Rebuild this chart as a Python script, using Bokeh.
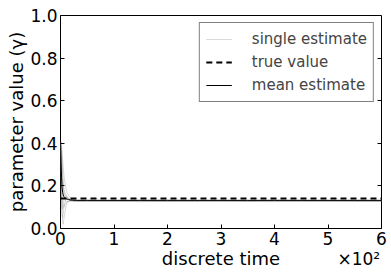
from bokeh.plotting import figure
from bokeh.models import (LinearAxis, FixedTicker, Range1d, Legend, LegendItem,
                          CustomLabelingPolicy)
from bokeh.embed import file_html
from bokeh.resources import INLINE

# ---- data ----
t = [0, 1, 2, 3, 4, 5, 6, 8, 10, 12, 15, 18, 22, 30, 50, 100, 150, 200, 250,
     300, 350, 400, 450, 500, 550, 600]

single_1 = [0.40, 0.40, 0.38, 0.35, 0.32, 0.29, 0.26, 0.22, 0.19, 0.17, 0.155, 0.145, 0.138,
            0.133, 0.131, 0.130, 0.132, 0.130, 0.131, 0.130, 0.129, 0.131, 0.130, 0.132, 0.130, 0.131]
single_2 = [0.40, 0.30, 0.18, 0.08, 0.03, 0.02, 0.04, 0.07, 0.10, 0.12, 0.130, 0.132, 0.131,
            0.130, 0.131, 0.130, 0.129, 0.130, 0.131, 0.132, 0.130, 0.129, 0.130, 0.131, 0.130, 0.130]
single_3 = [0.40, 0.36, 0.30, 0.25, 0.21, 0.18, 0.16, 0.14, 0.13, 0.125, 0.128, 0.130, 0.131,
            0.129, 0.130, 0.131, 0.130, 0.128, 0.130, 0.131, 0.130, 0.132, 0.130, 0.129, 0.130, 0.131]
single_4 = [0.40, 0.22, 0.10, 0.06, 0.05, 0.07, 0.09, 0.12, 0.14, 0.145, 0.140, 0.136, 0.133,
            0.132, 0.130, 0.131, 0.130, 0.130, 0.129, 0.130, 0.131, 0.130, 0.130, 0.131, 0.130, 0.129]
single_5 = [0.40, 0.38, 0.34, 0.28, 0.24, 0.20, 0.18, 0.16, 0.15, 0.14, 0.137, 0.134, 0.132,
            0.130, 0.130, 0.130, 0.131, 0.130, 0.130, 0.129, 0.130, 0.131, 0.130, 0.130, 0.131, 0.130]
single_6 = [0.40, 0.26, 0.14, 0.10, 0.09, 0.11, 0.13, 0.15, 0.155, 0.148, 0.140, 0.135, 0.131,
            0.130, 0.129, 0.130, 0.130, 0.131, 0.130, 0.130, 0.130, 0.130, 0.131, 0.130, 0.129, 0.130]
single_7 = [0.40, 0.33, 0.24, 0.17, 0.12, 0.10, 0.10, 0.11, 0.12, 0.125, 0.127, 0.128, 0.128,
            0.127, 0.128, 0.127, 0.126, 0.128, 0.127, 0.128, 0.127, 0.126, 0.128, 0.127, 0.128, 0.127]
single_8 = [0.40, 0.41, 0.39, 0.33, 0.27, 0.22, 0.19, 0.17, 0.16, 0.15, 0.142, 0.136, 0.133,
            0.132, 0.133, 0.132, 0.133, 0.134, 0.132, 0.133, 0.132, 0.134, 0.133, 0.132, 0.133, 0.132]
singles = [single_1, single_2, single_3, single_4, single_5, single_6, single_7, single_8]

mean_est = [0.40, 0.31, 0.24, 0.19, 0.17, 0.158, 0.15, 0.145, 0.141, 0.138, 0.136, 0.134, 0.133,
            0.132, 0.132, 0.132, 0.132, 0.132, 0.132, 0.132, 0.132, 0.132, 0.132, 0.132, 0.132, 0.132]

true_t = [0, 600]
true_val = [0.141, 0.141]

x_ticks = [0, 100, 200, 300, 400, 500, 600]
x_tick_labels = ["0", "1", "2", "3", "4", "5", "6"]
y_ticks = [0.0, 0.2, 0.4, 0.6, 0.8, 1.0]
y_tick_labels = ["0.0", "0.2", "0.4", "0.6", "0.8", "1.0"]
x_scale_text = "\u00d710\u00b2"

FONT = "DejaVu Sans"

p = figure(width=391, height=277, output_backend="svg", toolbar_location=None,
           x_range=Range1d(0, 600), y_range=Range1d(0, 1),
           min_border_left=60, min_border_right=10, min_border_top=15, min_border_bottom=49)
p.grid.visible = False
p.outline_line_color = "black"
p.outline_line_width = 1
p.background_fill_color = "white"
p.border_fill_color = "white"

single_renderers = []
for s in singles:
    r = p.line(t, s, line_color="gray", line_alpha=0.3, line_width=1)
    single_renderers.append(r)
r_true = p.line(true_t, true_val, line_color="black", line_width=2, line_dash="6 4")
r_mean = p.line(t, mean_est, line_color="black", line_width=1)

for ax, ticks, labels in ((p.xaxis[0], x_ticks, x_tick_labels), (p.yaxis[0], y_ticks, y_tick_labels)):
    ax.ticker = FixedTicker(ticks=ticks)
    ax.major_label_overrides = {tk: lb for tk, lb in zip(ticks, labels)}
    ax.major_tick_in = 4
    ax.major_tick_out = 0
    ax.minor_tick_line_color = None
    ax.major_label_text_font = FONT
    ax.major_label_text_font_size = "17px"
    ax.major_label_text_color = "black"
    ax.axis_label_text_font = FONT
    ax.axis_label_text_font_size = "18px"
    ax.axis_label_text_font_style = "normal"
    ax.axis_label_text_color = "black"
    ax.axis_line_color = None
    ax.major_label_standoff = 3
    ax.axis_label_standoff = 0

p.xaxis[0].axis_label = "discrete time"
p.yaxis[0].axis_label = "parameter value (\u03b3)"

no_labels = CustomLabelingPolicy(code="return new indices.constructor(indices.size);")

# inward ticks on the right edge
right_ax = LinearAxis(ticker=FixedTicker(ticks=y_ticks), fixed_location=600,
                      major_label_policy=no_labels, major_label_text_font_size="1px",
                      major_label_standoff=0, major_tick_in=4, major_tick_out=0,
                      minor_tick_line_color=None, axis_line_color=None)
p.add_layout(right_ax, "right")

# "x10^2" multiplier: label of a second, tick-less bottom axis, pulled up to the label row;
# leading no-break spaces push the visible text to the right end while the box stays inside
scale_ax = LinearAxis(ticker=FixedTicker(ticks=[]),
                      major_label_policy=no_labels, major_label_text_font_size="1px",
                      major_label_standoff=0, major_tick_in=0, major_tick_out=0,
                      minor_tick_line_color=None, axis_line_color=None,
                      axis_label="\u00a0" * 51 + x_scale_text, axis_label_align="center",
                      axis_label_standoff=-23,
                      axis_label_text_font=FONT, axis_label_text_font_size="17px",
                      axis_label_text_font_style="normal", axis_label_text_color="black")
p.add_layout(scale_ax, "below")

legend = Legend(items=[
    LegendItem(label="single estimate", renderers=[single_renderers[0]]),
    LegendItem(label="true value", renderers=[r_true]),
    LegendItem(label="mean estimate", renderers=[r_mean]),
], location="top_right")
legend.margin = 7
legend.padding = 6
legend.spacing = 3
legend.label_height = 20
legend.glyph_height = 20
legend.glyph_width = 26
legend.label_standoff = 20
legend.label_text_font = FONT
legend.label_text_font_size = "15px"
legend.border_line_color = "black"
legend.border_line_width = 1
legend.background_fill_alpha = 1
p.add_layout(legend)

open("out.html", "w").write(file_html(p, INLINE))
